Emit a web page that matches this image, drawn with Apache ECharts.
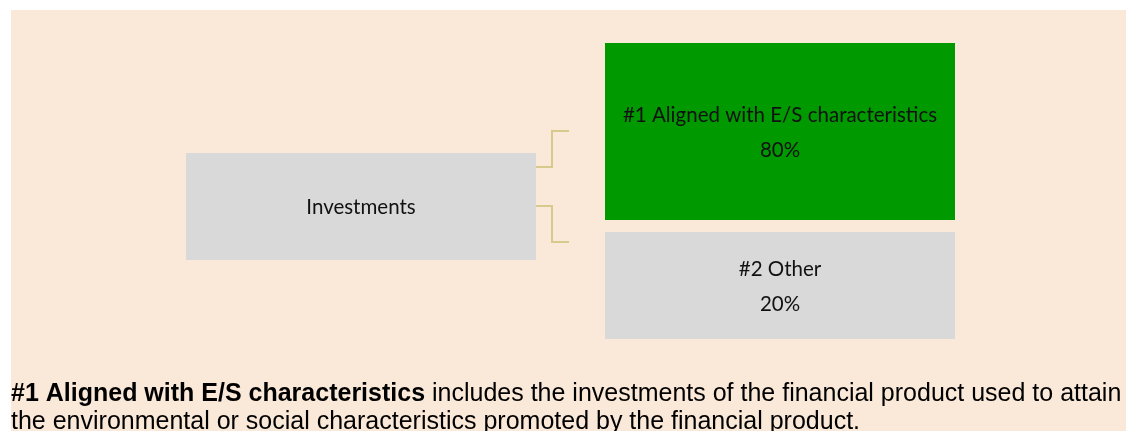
<!DOCTYPE html>
<html>
<head>
<meta charset="utf-8">
<script src="https://cdn.jsdelivr.net/npm/echarts@6/dist/echarts.min.js"></script>
<style>
  html, body { margin: 0; padding: 0; background: #fff; }
</style>
</head>
<body>
<div id="main" style="width:1126px;height:431px;"></div>
<script type="text/javascript">

// data
var nodeNames = ['Investments', '#1 Aligned with E/S characteristics', '#2 Other'];
var nodeShares = [null, 80, 20];
var nodeParents = [-1, 0, 0];
var noteBold = '#1 Aligned with E/S characteristics';
var noteLines = [
  ' includes the investments of the financial product used to attain',
  'the environmental or social characteristics promoted by the financial product.'
];

// layout (x, y, w, h in page units)
var boxes = [
  [186, 153, 350, 107],
  [605, 43, 350, 177],
  [605, 232, 350, 107]
];
var boxColors = ['#d9d9d9', '#009900', '#d9d9d9'];
// connector: y at parent side, y at child side
var links = [null, [167, 131], [206, 242]];

var data = nodeNames.map(function (n, i) {
  return [i, nodeShares[i] == null ? 0 : nodeShares[i]];
});

function renderItem(params, api) {
  var i = api.value(0);
  var b = boxes[i];
  var p0 = api.coord([b[0], b[1]]);
  var p1 = api.coord([b[0] + b[2], b[1] + b[3]]);
  var label = nodeNames[i];
  if (nodeShares[i] != null) label += '\n' + nodeShares[i] + '%';
  var children = [{
    type: 'rect',
    shape: { x: p0[0], y: p0[1], width: p1[0] - p0[0], height: p1[1] - p0[1] },
    style: { fill: boxColors[i] }
  }, {
    type: 'text',
    x: (p0[0] + p1[0]) / 2,
    y: (p0[1] + p1[1]) / 2 + 1,
    style: {
      text: label,
      align: 'center',
      verticalAlign: 'middle',
      fontFamily: 'Lato',
      fontSize: 20.5,
      lineHeight: 35,
      fill: '#111'
    }
  }];
  if (nodeParents[i] >= 0) {
    var pb = boxes[nodeParents[i]];
    var l = links[i];
    var a = api.coord([pb[0] + pb[2], l[0]]);
    var m = api.coord([pb[0] + pb[2] + 16, l[1]]);
    var e = api.coord([pb[0] + pb[2] + 33, l[1]]);
    children.push({
      type: 'polyline',
      shape: { points: [a, [m[0], a[1]], m, e] },
      style: { stroke: '#d8c98c', lineWidth: 2, fill: null }
    });
  }
  return { type: 'group', children: children };
}

var myChart = echarts.init(document.getElementById('main'));

option = {
  animation: false,
  graphic: [{
    type: 'rect',
    z: -10,
    shape: { x: 11, y: 10, width: 1115, height: 421 },
    style: { fill: '#fae8d8' }
  }],
  title: {
    left: 11,
    top: 380,
    padding: 0,
    text: '{b|' + noteBold + '}{n|' + noteLines[0] + '}\n{n|' + noteLines[1] + '}',
    textStyle: {
      rich: {
        b: { fontFamily: 'Liberation Sans', fontSize: 25, fontWeight: 'bold', color: '#000', lineHeight: 28 },
        n: { fontFamily: 'Liberation Sans', fontSize: 25, fontWeight: 'normal', color: '#000', lineHeight: 28 }
      }
    }
  },
  grid: { left: 0, right: 0, top: 0, bottom: 0 },
  xAxis: { type: 'value', min: 0, max: 1126, show: false },
  yAxis: { type: 'value', min: 0, max: 431, inverse: true, show: false },
  series: [{
    type: 'custom',
    renderItem: renderItem,
    data: data
  }]
};

myChart.setOption(option);

</script>
</body>
</html>
